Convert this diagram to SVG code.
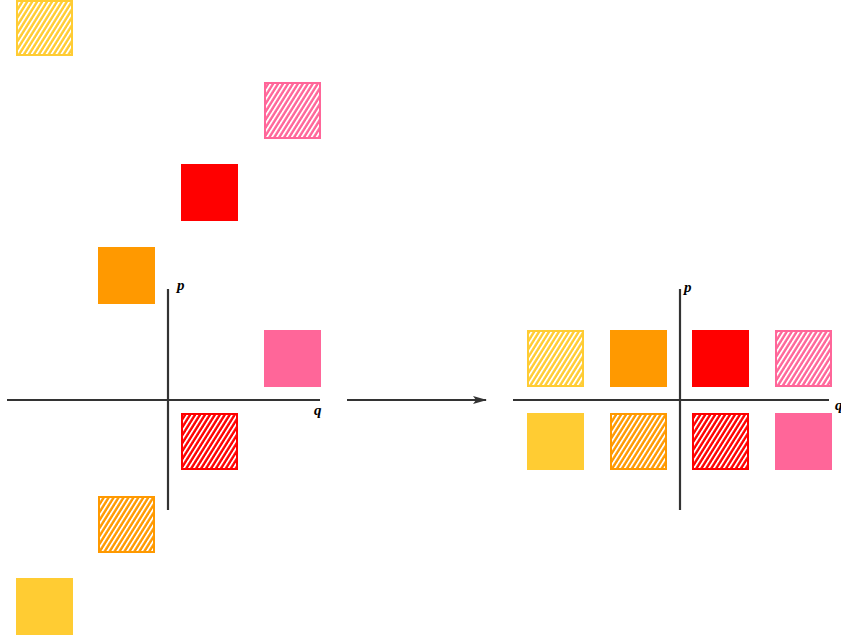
<svg xmlns="http://www.w3.org/2000/svg" width="841" height="644" viewBox="0 0 841 644">
<style>
.ax{stroke:#333;stroke-width:2.2;fill:none}
.lbl{font-family:"Liberation Serif",serif;font-style:italic;font-weight:bold;font-size:15px;fill:#000}
.y{fill:#FFCC33}.o{fill:#FF9900}.r{fill:#FF0000}.k{fill:#FF6699}
.hy{fill:url(#hy);stroke:#FFCC33;stroke-width:2}
.ho{fill:url(#ho);stroke:#FF9900;stroke-width:2}
.hr{fill:url(#hr);stroke:#FF0000;stroke-width:2}
.hk{fill:url(#hk);stroke:#FF6699;stroke-width:2}
</style>
<defs>
<pattern id="hy" width="4.2" height="4" patternUnits="userSpaceOnUse" patternTransform="rotate(32)"><rect width="4.2" height="4" fill="#FFCC33"/><rect width="1.8" height="4" fill="#fff"/></pattern>
<pattern id="ho" width="4.2" height="4" patternUnits="userSpaceOnUse" patternTransform="rotate(32)"><rect width="4.2" height="4" fill="#FF9900"/><rect width="1.8" height="4" fill="#fff"/></pattern>
<pattern id="hr" width="4.2" height="4" patternUnits="userSpaceOnUse" patternTransform="rotate(32)"><rect width="4.2" height="4" fill="#FF0000"/><rect width="1.8" height="4" fill="#fff"/></pattern>
<pattern id="hk" width="4.2" height="4" patternUnits="userSpaceOnUse" patternTransform="rotate(32)"><rect width="4.2" height="4" fill="#FF6699"/><rect width="1.8" height="4" fill="#fff"/></pattern>
<marker id="ah" markerWidth="14" markerHeight="8" refX="13" refY="4" orient="auto" markerUnits="userSpaceOnUse"><path d="M0,0 L14,4 L0,8 L3,4 Z" fill="#333"/></marker>
</defs>
<g id="connectors">
<line class="ax" x1="7" y1="400" x2="320" y2="400"/>
<line class="ax" x1="168" y1="289" x2="168" y2="510"/>
<line class="ax" x1="347" y1="400" x2="486" y2="400" marker-end="url(#ah)"/>
<line class="ax" x1="513" y1="400" x2="829" y2="400"/>
<line class="ax" x1="680" y1="289" x2="680" y2="510"/>
</g>
<g id="labels">
<text class="lbl" x="177" y="290">p</text>
<text class="lbl" x="314" y="415">q</text>
<text class="lbl" x="684" y="292">p</text>
<text class="lbl" x="835" y="410">q</text>
</g>
<g id="left">
<rect id="L1" class="hy" x="17" y="1" width="55" height="54"/>
<rect id="L2" class="hk" x="265" y="83" width="55" height="55"/>
<rect id="L3" class="r" x="181" y="164" width="57" height="57"/>
<rect id="L4" class="o" x="98" y="247" width="57" height="57"/>
<rect id="L5" class="k" x="264" y="330" width="57" height="57"/>
<rect id="L6" class="hr" x="182" y="414" width="55" height="55"/>
<rect id="L7" class="ho" x="99" y="497" width="55" height="55"/>
<rect id="L8" class="y" x="16" y="578" width="57" height="57"/>
</g>
<g id="right">
<rect id="R1" class="hy" x="528" y="331" width="55" height="55"/>
<rect id="R2" class="o" x="610" y="330" width="57" height="57"/>
<rect id="R3" class="r" x="692" y="330" width="57" height="57"/>
<rect id="R4" class="hk" x="776" y="331" width="55" height="55"/>
<rect id="R5" class="y" x="527" y="413" width="57" height="57"/>
<rect id="R6" class="ho" x="611" y="414" width="55" height="55"/>
<rect id="R7" class="hr" x="693" y="414" width="55" height="55"/>
<rect id="R8" class="k" x="775" y="413" width="57" height="57"/>
</g>
</svg>
